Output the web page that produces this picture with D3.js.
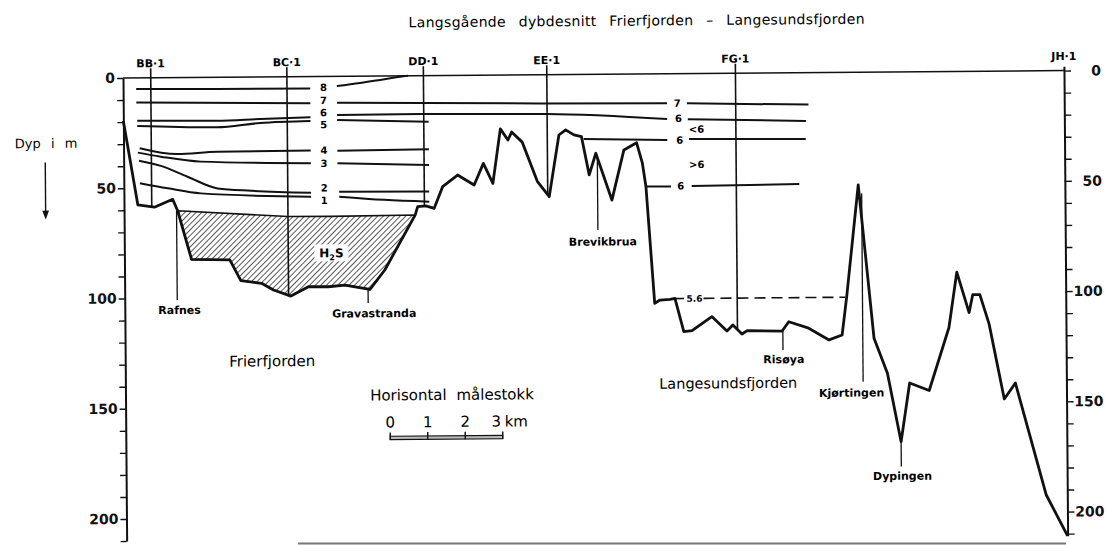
<!DOCTYPE html>
<html>
<head>
<meta charset="utf-8">
<script src="https://cdn.jsdelivr.net/npm/d3@7"></script>
<style>
body { margin: 0; background: #fff; }
svg { display: block; font-family: "DejaVu Sans", sans-serif; }
</style>
</head>
<body>
<div id="chart"></div>
<script>
// bottom profile along the section: km from the inner end, depth in m
var profileKm = [0, 0.37, 0.81, 1.30, 1.43, 1.79, 2.81, 3.10, 3.65, 3.97, 4.43, 4.90, 5.43, 5.87, 6.54, 6.94,
  7.76, 7.83, 8.05, 8.27, 8.50, 8.90, 9.34, 9.59, 9.84, 10.05, 10.25, 10.35, 10.63, 11.03, 11.34, 11.61, 11.79,
  12.01, 12.21, 12.41, 12.59, 13.01, 13.34, 13.68, 13.83, 13.92, 14.13, 14.27, 14.54, 14.67, 14.90, 15.12, 15.65,
  16.05, 16.21, 16.45, 16.59, 17.52, 17.70, 18.23, 18.77, 19.12, 19.25, 19.58, 19.97, 20.32, 20.67, 20.91, 21.43,
  21.97, 22.19, 22.51, 22.61, 22.80, 23.04, 23.43, 23.73, 24.53, 25.09];
var profileDepth = [19.5, 57.6, 58.7, 55.2, 60.4, 82.5, 82.9, 92.3, 93.6, 96.7, 99.5, 95.3, 95.4, 94.7, 96.7, 88.0,
  63.2, 59.4, 59.1, 60.2, 50.4, 45.2, 49.8, 40.0, 49.1, 24.4, 29.5, 25.9, 30.5, 48.5, 55.3, 27.4, 25.1,
  27.4, 28.2, 45.6, 35.8, 57.1, 34.4, 31.2, 40.5, 51.1, 104.1, 102.6, 102.3, 101.9, 117.0, 116.6, 110.3,
  116.9, 114.2, 118.3, 116.8, 117.1, 112.9, 115.9, 121.3, 119.1, 101.7, 51.1, 120.7, 136.6, 167.7, 141.1, 144.6,
  116.1, 91.0, 109.4, 101.3, 101.3, 114.6, 148.7, 141.5, 192.4, 211.0];

// upper surface of the H2S water in Frierfjorden
var h2sTopKm = [1.43, 4.37, 5.52, 7.76];
var h2sTopDepth = [60.4, 63.4, 63.5, 63.2];

// stations
var stationNames = ["BB·1", "BC·1", "DD·1", "EE·1", "FG·1", "JH·1"];
var stationKm = [0.74, 4.37, 8.01, 11.30, 16.33, 25.09];

// isoline pieces [km, depth]
var isoSegments = [
  [[0.35, 5.0], [2.5, 5.3], [4.99, 5.4]],
  [[5.70, 4.4], [6.32, 3.1], [6.85, 1.8], [7.39, 0.4], [7.6, 0]],
  [[0.35, 11.2], [4.99, 12.1]],
  [[5.70, 12.0], [11.12, 13.0], [14.50, 13.4]],
  [[15.03, 13.5], [18.27, 14.5]],
  [[0.37, 19.4], [2.5, 19.7], [3.65, 19.1], [4.99, 18.5]],
  [[5.70, 17.5], [7.92, 17.4], [11.30, 17.8], [14.50, 20.5]],
  [[15.05, 20.7], [18.20, 21.9]],
  [[0.37, 21.8], [2.5, 22.7], [3.65, 20.9], [4.99, 20.2]],
  [[5.70, 19.8], [8.14, 20.9]],
  [[0.43, 31.9], [1.43, 34.7], [2.5, 33.8], [4.99, 33.6]],
  [[5.70, 33.7], [8.14, 33.4]],
  [[0.38, 33.9], [0.99, 35.8], [2.05, 38.2], [4.99, 39.3]],
  [[5.70, 39.4], [8.14, 40.5]],
  [[0.41, 37.6], [0.99, 40.0], [1.70, 45.0], [2.50, 50.4], [3.40, 51.6], [4.99, 52.7]],
  [[5.74, 52.3], [8.14, 52.6]],
  [[0.43, 47.8], [1.17, 50.2], [2.05, 52.6], [4.99, 54.5]],
  [[5.74, 54.6], [6.94, 56.2], [8.14, 57.2]],
  [[12.27, 29.3], [14.50, 30.0]],
  [[15.08, 29.7], [18.19, 30.1]],
  [[13.92, 51.1], [14.59, 51.2]],
  [[15.14, 51.0], [18.01, 50.5]]
];
var isoLabels = ["8", "7", "6", "5", "4", "3", "2", "1", "7", "6", "6", "6"];
var isoLabelKm = [5.34, 5.34, 5.34, 5.34, 5.34, 5.34, 5.34, 5.34, 14.77, 14.80, 14.83, 14.85];
var isoLabelDepth = [5.0, 10.9, 16.4, 21.9, 33.4, 39.4, 50.6, 56.2, 13.4, 20.3, 30.1, 50.9];
var layerNotes = ["<6", ">6"];
var layerNoteKm = [15.28, 15.28];
var layerNoteDepth = [25.2, 41.2];

// dashed 5,6 line at the Langesundsfjord sill
var dashSegments = [[14.62, 14.94], [15.43, 19.21]];
var dashDepth = 102;

// place names with leader lines
var placeNames = ["Rafnes", "Gravastranda", "Brevikbrua", "Risøya", "Kjørtingen", "Dypingen"];
var placeKm = [1.40, 6.49, 12.63, 17.54, 19.67, 20.67];
var placeTop = [60.4, 96.5, 36.6, 117, 55, 168];
var placeBottom = [100.9, 102.9, 70.6, 125.7, 140.4, 179];
var placeLabelKm = [1.46, 6.65, 12.76, 17.56, 19.36, 20.70];
var placeLabelDepth = [107.2, 109.4, 77.7, 131.7, 147.1, 185];

var depthTicks = d3.range(0, 211, 10);
var scaleKm = [0, 1, 2, 3];

var svg = d3.select("#chart").append("svg")
  .attr("width", 1107)
  .attr("height", 545);

svg.append("rect").attr("width", 1107).attr("height", 545).attr("fill", "#fff");

var defs = svg.append("defs");
defs.append("pattern")
  .attr("id", "hatch")
  .attr("patternUnits", "userSpaceOnUse")
  .attr("width", 4).attr("height", 4)
  .attr("patternTransform", "rotate(45)")
  .append("line")
  .attr("x1", 0).attr("y1", 0).attr("x2", 0).attr("y2", 4)
  .attr("stroke", "#111").attr("stroke-width", 1.4);

// the scanned figure is a little tilted
var g = svg.append("g").attr("transform", "rotate(-0.45,123,78)");

var x = d3.scaleLinear().domain([0, 25.09]).range([123, 1064]);
var y = d3.scaleLinear().domain([0, 211]).range([78, 78 + 2.205 * 211]);
var floorAt = d3.scaleLinear().domain(profileKm).range(profileDepth);

var line = d3.line().x(function (d) { return x(d[0]); }).y(function (d) { return y(d[1]); });
var smooth = d3.line().x(function (d) { return x(d[0]); }).y(function (d) { return y(d[1]); }).curve(d3.curveMonotoneX);

// title and left legend
g.append("text")
  .attr("x", 409).attr("y", 29.6)
  .attr("textLength", 456).attr("lengthAdjust", "spacing")
  .style("font-size", "14px")
  .style("word-spacing", "8px")
  .text("Langsgående dybdesnitt Frierfjorden – Langesundsfjorden");

g.append("text")
  .attr("x", 45.5).attr("y", 147.4)
  .attr("text-anchor", "middle")
  .style("font-size", "13px")
  .style("word-spacing", "6px")
  .text("Dyp i m");
g.append("line")
  .attr("x1", 44.6).attr("y1", 162).attr("x2", 44.6).attr("y2", 213)
  .attr("stroke", "#111").attr("stroke-width", 1.4);
g.append("path")
  .attr("d", "M41.2,210L48,210L44.6,219Z")
  .attr("fill", "#111");

// H2S body
var h2sPoly = d3.zip(h2sTopKm, h2sTopDepth);
for (var i = profileKm.length - 1; i >= 0; i--) {
  if (profileKm[i] >= 1.43 && profileKm[i] <= 7.76) h2sPoly.push([profileKm[i], profileDepth[i]]);
}
g.append("path")
  .attr("d", line(h2sPoly) + "Z")
  .attr("fill", "url(#hatch)")
  .attr("stroke", "#111")
  .attr("stroke-width", 1.6);

g.append("rect")
  .attr("x", x(5.52) - 17).attr("y", y(80.1) - 8.5)
  .attr("width", 34).attr("height", 17)
  .attr("fill", "#fff");
var h2s = g.append("text")
  .attr("x", x(5.52)).attr("y", y(80.1)).attr("dy", "0.35em")
  .attr("text-anchor", "middle")
  .style("font-size", "12px").style("font-weight", "bold");
h2s.append("tspan").text("H");
h2s.append("tspan").attr("dy", "3").style("font-size", "8px").text("2");
h2s.append("tspan").attr("dy", "-3").text("S");

// sea surface
g.append("line")
  .attr("x1", x(0)).attr("x2", x(25.09))
  .attr("y1", y(0)).attr("y2", y(0))
  .attr("stroke", "#111").attr("stroke-width", 1.5);

// stations
g.selectAll(".station")
  .data(stationKm.slice(0, 5))
  .enter().append("line")
  .attr("class", "station")
  .attr("x1", function (d) { return x(d); })
  .attr("x2", function (d) { return x(d); })
  .attr("y1", y(-4.3))
  .attr("y2", function (d) { return y(floorAt(d)); })
  .attr("stroke", "#111").attr("stroke-width", 1.6);

g.selectAll(".stlabel")
  .data(stationNames)
  .enter().append("text")
  .attr("class", "stlabel")
  .attr("x", function (d, i) { return x(stationKm[i]); })
  .attr("y", y(-4.8))
  .attr("text-anchor", "middle")
  .style("font-size", "11px").style("font-weight", "bold")
  .text(function (d) { return d; });

// isolines
g.selectAll(".iso")
  .data(isoSegments)
  .enter().append("path")
  .attr("class", "iso")
  .attr("d", smooth)
  .attr("fill", "none")
  .attr("stroke", "#111").attr("stroke-width", 2);

g.selectAll(".isolabel")
  .data(isoLabels)
  .enter().append("text")
  .attr("class", "isolabel")
  .attr("x", function (d, i) { return x(isoLabelKm[i]); })
  .attr("y", function (d, i) { return y(isoLabelDepth[i]); })
  .attr("dy", "0.36em")
  .attr("text-anchor", "middle")
  .style("font-size", "10px").style("font-weight", "bold")
  .text(function (d) { return d; });

g.selectAll(".note")
  .data(layerNotes)
  .enter().append("text")
  .attr("class", "note")
  .attr("x", function (d, i) { return x(layerNoteKm[i]); })
  .attr("y", function (d, i) { return y(layerNoteDepth[i]); })
  .attr("dy", "0.36em")
  .attr("text-anchor", "middle")
  .style("font-size", "10px").style("font-weight", "bold")
  .text(function (d) { return d; });

// dashed 5,6 level
g.selectAll(".dash")
  .data(dashSegments)
  .enter().append("line")
  .attr("class", "dash")
  .attr("x1", function (d) { return x(d[0]); })
  .attr("x2", function (d) { return x(d[1]); })
  .attr("y1", y(dashDepth)).attr("y2", y(dashDepth))
  .attr("stroke", "#111").attr("stroke-width", 1.6)
  .attr("stroke-dasharray", "11,6");
g.append("text")
  .attr("x", x(15.19)).attr("y", y(dashDepth)).attr("dy", "0.36em")
  .attr("text-anchor", "middle")
  .style("font-size", "9px").style("font-weight", "bold")
  .text("5.6");

// bottom profile
g.append("path")
  .attr("d", line(d3.zip(profileKm, profileDepth)))
  .attr("fill", "none")
  .attr("stroke", "#111").attr("stroke-width", 2.8)
  .attr("stroke-linejoin", "round");

// place names
g.selectAll(".leader")
  .data(placeNames)
  .enter().append("line")
  .attr("class", "leader")
  .attr("x1", function (d, i) { return x(placeKm[i]); })
  .attr("x2", function (d, i) { return x(placeKm[i]); })
  .attr("y1", function (d, i) { return y(placeTop[i]); })
  .attr("y2", function (d, i) { return y(placeBottom[i]); })
  .attr("stroke", "#111").attr("stroke-width", 1.3);

g.selectAll(".place")
  .data(placeNames)
  .enter().append("text")
  .attr("class", "place")
  .attr("x", function (d, i) { return x(placeLabelKm[i]); })
  .attr("y", function (d, i) { return y(placeLabelDepth[i]); })
  .attr("text-anchor", "middle")
  .style("font-size", "11px").style("font-weight", "bold")
  .text(function (d) { return d; });

// fjord names
g.append("text")
  .attr("x", 270).attr("y", 367.5)
  .attr("text-anchor", "middle")
  .style("font-size", "15px")
  .text("Frierfjorden");
g.append("text")
  .attr("x", 725.8).attr("y", 393)
  .attr("text-anchor", "middle")
  .style("font-size", "14.5px")
  .text("Langesundsfjorden");

// horizontal scale bar
g.append("text")
  .attr("x", 449.5).attr("y", 402.5)
  .attr("text-anchor", "middle")
  .style("font-size", "15px")
  .style("word-spacing", "5px")
  .text("Horisontal målestokk");
var bar = g.append("g");
bar.append("rect")
  .attr("x", x(7.05)).attr("y", 438.3)
  .attr("width", x(10.05) - x(7.05)).attr("height", 3.4)
  .attr("fill", "#bbb").attr("stroke", "#111").attr("stroke-width", 1.1);
bar.selectAll(".sbt")
  .data(scaleKm)
  .enter().append("line")
  .attr("class", "sbt")
  .attr("x1", function (d) { return x(7.05 + d); })
  .attr("x2", function (d) { return x(7.05 + d); })
  .attr("y1", 434.5).attr("y2", 442)
  .attr("stroke", "#111").attr("stroke-width", 1.4);
bar.selectAll(".sbl")
  .data(scaleKm)
  .enter().append("text")
  .attr("class", "sbl")
  .attr("x", function (d) { return x(7.05 + d) - (d === 3 ? 6.5 : 0); })
  .attr("y", 429.5)
  .attr("text-anchor", "middle")
  .style("font-size", "15px")
  .text(function (d) { return d; });
bar.append("text")
  .attr("x", x(10.05) + 2).attr("y", 429.5)
  .style("font-size", "15px")
  .text("km");

// depth axes
var axisScale = y.copy().domain([0, 210]).range([y(0), y(210)]);
var leftAxis = g.append("g")
  .attr("transform", "translate(" + x(0) + ",0)")
  .call(d3.axisLeft(axisScale).tickValues(depthTicks)
    .tickFormat(function (d) { return d % 50 === 0 ? d : ""; })
    .tickSize(6).tickSizeOuter(0).tickPadding(2));

var rightScale = y.copy().domain([-2, 211]).range([y(-2), y(211)]);
var rightAxis = g.append("g")
  .attr("transform", "translate(" + x(25.09) + ",0)")
  .call(d3.axisRight(rightScale).tickValues(depthTicks)
    .tickFormat(function (d) { return d % 50 === 0 ? d : ""; })
    .tickSize(7).tickSizeOuter(0));
rightAxis.selectAll("text").attr("text-anchor", "end").attr("x", 37);

g.selectAll(".domain").attr("stroke", "#111").attr("stroke-width", 2);
g.selectAll(".tick line").attr("stroke", "#111").attr("stroke-width", 1.4);
g.selectAll(".tick text")
  .attr("fill", "#111")
  .style("font-family", "DejaVu Sans, sans-serif")
  .style("font-size", "14px").style("font-weight", "bold");

// page edge line at the bottom of the scan
svg.append("line")
  .attr("x1", 298).attr("x2", 1066)
  .attr("y1", 543.6).attr("y2", 543.6)
  .attr("stroke", "#777").attr("stroke-width", 2);
</script>
</body>
</html>
